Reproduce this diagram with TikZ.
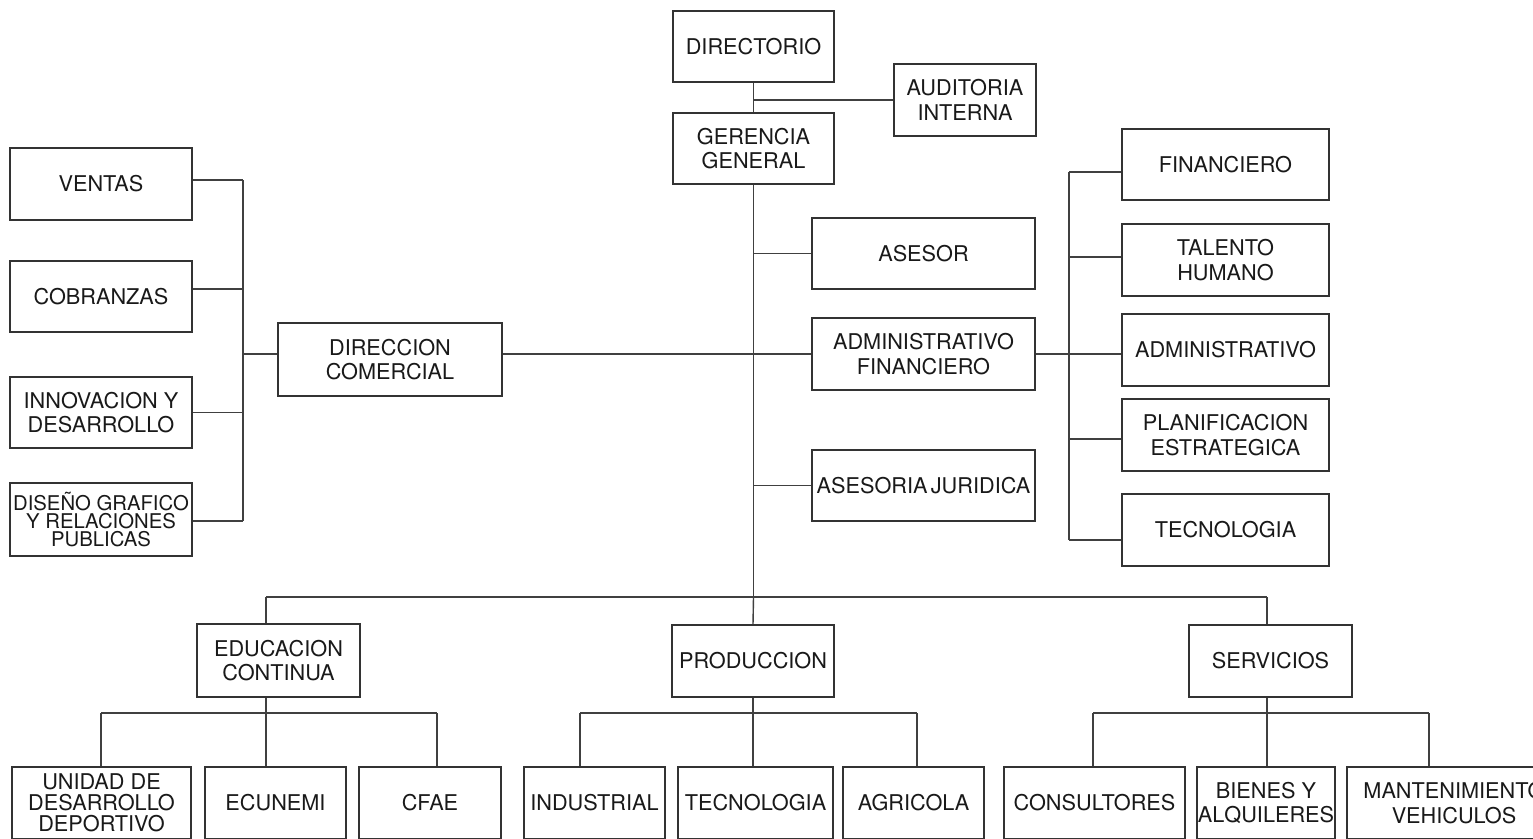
\documentclass[tikz,border=0pt]{standalone}
\usepackage{fontspec}
\setmainfont{TeX Gyre Heros}
\begin{document}
\begin{tikzpicture}[x=1pt,y=-1pt,
  box/.style={draw=black!80, line width=1.8pt, inner sep=0pt, align=center,
    text=black!90, font=\fontsize{21.7}{24.5}\selectfont},
  conn/.style={draw=black!75, line width=1.4pt}]
\useasboundingbox[fill=white] (0,0) rectangle (1533,838);
% top
\node[box, minimum width=161pt, minimum height=71pt] (dir) at (753.5,46.5) {DIRECTORIO};
\node[box, minimum width=142pt, minimum height=72pt] (aud) at (965,100) {AUDITORIA\\INTERNA};
\node[box, minimum width=161pt, minimum height=71pt] (ger) at (753.5,148.5) {GERENCIA\\GENERAL};
% left
\node[box, minimum width=182pt, minimum height=72pt] (ven) at (101,184) {VENTAS};
\node[box, minimum width=182pt, minimum height=71pt] (cob) at (101,296.5) {COBRANZAS};
\node[box, minimum width=182pt, minimum height=71pt] (inn) at (101,412.5) {INNOVACION Y\\DESARROLLO};
\node[box, minimum width=182pt, minimum height=73pt, font=\fontsize{20.3}{17.8}\selectfont] (dis) at (101,519.5) {DISEÑO GRAFICO\\Y RELACIONES\\PUBLICAS};
\node[box, minimum width=224pt, minimum height=73pt] (dc) at (390,359.5) {DIRECCION\\COMERCIAL};
% middle
\node[box, minimum width=223pt, minimum height=71pt] (ase) at (923.5,253.5) {ASESOR};
\node[box, minimum width=223pt, minimum height=72pt] (adf) at (923.5,354) {ADMINISTRATIVO\\FINANCIERO};
\node[box, minimum width=223pt, minimum height=71pt] (jur) at (923.5,485.5) {ASESORIA\hspace{0.15em}JURIDICA};
% right
\node[box, minimum width=207pt, minimum height=71pt] (fin) at (1225.5,164.5) {FINANCIERO};
\node[box, minimum width=207pt, minimum height=72pt] (tal) at (1225.5,260) {TALENTO\\HUMANO};
\node[box, minimum width=207pt, minimum height=72pt] (adm) at (1225.5,350) {ADMINISTRATIVO};
\node[box, minimum width=207pt, minimum height=72pt] (pla) at (1225.5,435) {PLANIFICACION\\ESTRATEGICA};
\node[box, minimum width=207pt, minimum height=72pt] (tec) at (1225.5,530) {TECNOLOGIA};
% lower level
\node[box, minimum width=163pt, minimum height=73pt] (edu) at (278.5,660.5) {EDUCACION\\CONTINUA};
\node[box, minimum width=162pt, minimum height=72pt] (pro) at (753,661) {PRODUCCION};
\node[box, minimum width=163pt, minimum height=72pt] (ser) at (1270.5,661) {SERVICIOS};
% bottom
\node[box, minimum width=179pt, minimum height=72pt, font=\fontsize{21.7}{21}\selectfont] (udd) at (101.5,803) {UNIDAD DE\\DESARROLLO\\DEPORTIVO};
\node[box, minimum width=141pt, minimum height=72pt] (ecu) at (275.5,803) {ECUNEMI};
\node[box, minimum width=142pt, minimum height=72pt] (cfa) at (430,803) {CFAE};
\node[box, minimum width=141pt, minimum height=72pt] (ind) at (594.5,803) {INDUSTRIAL};
\node[box, minimum width=155pt, minimum height=72pt] (tcn) at (755.5,803) {TECNOLOGIA};
\node[box, minimum width=141pt, minimum height=72pt] (agr) at (913.5,803) {AGRICOLA};
\node[box, minimum width=181pt, minimum height=72pt] (con) at (1094.5,803) {CONSULTORES};
\node[box, minimum width=138pt, minimum height=72pt] (bie) at (1266,803) {BIENES Y\\ALQUILERES};
\node[box, minimum width=214pt, minimum height=72pt] (man) at (1454,803) {MANTENIMIENTO\\VEHICULOS};
% junction coordinates
\coordinate (jb) at (753.5,597);
\coordinate (eduT) at (266,597);
\coordinate (serT) at (1267,597);
\coordinate (lvT) at (243,180);
\coordinate (lvB) at (243,521);
\coordinate (lvM) at (243,354);
\coordinate (rvT) at (1069,172);
\coordinate (rvB) at (1069,540);
\coordinate (e1) at (101,713);
\coordinate (e2) at (266,713);
\coordinate (e3) at (437,713);
\coordinate (p1) at (580,713);
\coordinate (p2) at (753,713);
\coordinate (p3) at (917,713);
\coordinate (s1) at (1093,713);
\coordinate (s2) at (1267,713);
\coordinate (s3) at (1429,713);
% connectors top
\draw[conn] (dir.south) -- (ger.north);
\draw[conn] (aud.west) -- (aud.west -| dir.south);
\draw[conn] (ger.south) -- (jb);
\draw[conn] (ase.west) -- (ase.west -| ger.south);
\draw[conn] (jur.west) -- (jur.west -| ger.south);
\draw[conn] (dc.east |- adf.west) -- (adf.west);
% left
\draw[conn] (lvT) -- (lvB);
\draw[conn] ([yshift=4pt]ven.east) -- ([yshift=4pt]ven.east -| lvT);
\draw[conn] ([yshift=7.5pt]cob.east) -- ([yshift=7.5pt]cob.east -| lvT);
\draw[conn] (inn.east) -- (inn.east -| lvT);
\draw[conn] ([yshift=-1.5pt]dis.east) -- (lvB);
\draw[conn] (lvM) -- (dc.west |- lvM);
% right
\draw[conn] (rvT) -- (rvB);
\draw[conn] (rvT) -- (rvT -| fin.west);
\draw[conn] ([yshift=3pt]tal.west) -- ([yshift=3pt]tal.west -| rvT);
\draw[conn] (adf.east) -- (adf.east -| adm.west);
\draw[conn] ([yshift=-4pt]pla.west) -- ([yshift=-4pt]pla.west -| rvT);
\draw[conn] (rvB) -- (rvB -| tec.west);
% lower bus
\draw[conn] (eduT) -- (serT);
\draw[conn] (eduT) -- (eduT |- edu.north);
\draw[conn] (jb) -- (pro.north);
\draw[conn] (serT) -- (serT |- ser.north);
% education subtree
\draw[conn] (e2 |- edu.south) -- (e2);
\draw[conn] (e1) -- (e3);
\draw[conn] (e1) -- (e1 |- udd.north);
\draw[conn] (e2) -- (e2 |- ecu.north);
\draw[conn] (e3) -- (e3 |- cfa.north);
% production subtree
\draw[conn] (pro.south) -- (p2);
\draw[conn] (p1) -- (p3);
\draw[conn] (p1) -- (p1 |- ind.north);
\draw[conn] (p2) -- (p2 |- tcn.north);
\draw[conn] (p3) -- (p3 |- agr.north);
% services subtree
\draw[conn] (s2 |- ser.south) -- (s2);
\draw[conn] (s1) -- (s3);
\draw[conn] (s1) -- (s1 |- con.north);
\draw[conn] (s2) -- (s2 |- bie.north);
\draw[conn] (s3) -- (s3 |- man.north);
\end{tikzpicture}
\end{document}
